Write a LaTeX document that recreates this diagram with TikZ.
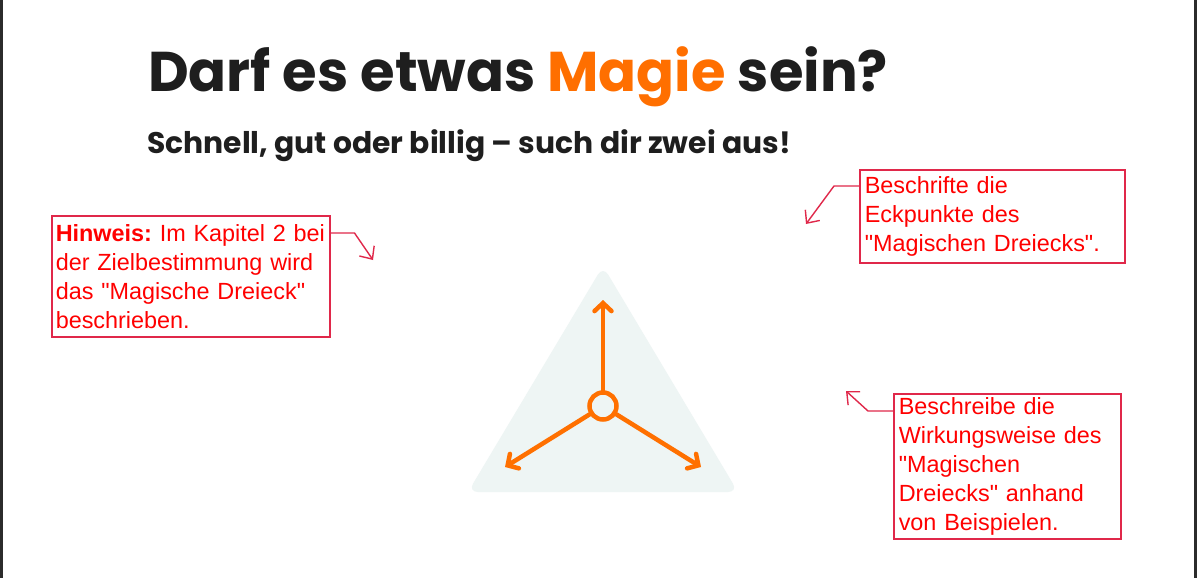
\documentclass[tikz,border=0pt]{standalone}
\usepackage{fontspec}
\setmainfont{Liberation Sans}
\newfontfamily\boxfont{Liberation Sans}
\newfontfamily\titlefont{Poppins}
\usetikzlibrary{arrows.meta}
\definecolor{ttl}{HTML}{1E1E1E}
\definecolor{mag}{HTML}{FF6F00}
\definecolor{org}{HTML}{FF7000}
\definecolor{tri}{HTML}{EEF5F4}
\definecolor{boxred}{HTML}{E0284A}
\definecolor{txtred}{HTML}{FF0000}
\definecolor{frame}{HTML}{2B2B2B}
\begin{document}
\begin{tikzpicture}[x=1pt,y=-1pt,
  rbox/.style={draw=boxred, line width=1.5pt, text=txtred, font=\boxfont\fontsize{23.4}{29}\selectfont,
    align=left, anchor=north west, inner xsep=4pt, inner ysep=0pt},
  rline/.style={draw=boxred, line width=1.4pt, -{Straight Barb[length=10pt,width=18pt]}},
  oarrow/.style={draw=org, line width=4.5pt, line cap=round, -{Straight Barb[length=8pt,width=17pt,line cap=round]}}]
\useasboundingbox (0,0) rectangle (1197,578);
\fill[white] (0,0) rectangle (1197,578);
\fill[frame] (0,0) rectangle (2.5,578);
\fill[frame] (1194,0) rectangle (1197,578);

\node[anchor=base west, inner sep=0, text=ttl, font=\titlefont\bfseries\fontsize{56}{60}\selectfont] (title) at (148,92) {Darf es etwas \textcolor{mag}{Magie} sein?};
\node[anchor=base west, inner sep=0, text=ttl, font=\titlefont\bfseries\fontsize{29.8}{33}\selectfont] (sub) at (147,153) {Schnell, gut oder billig – such dir zwei aus!};

\fill[tri, rounded corners=10pt] (603,266) -- (738,492) -- (468,492) -- cycle;
\node[draw=org, line width=4.5pt, circle, minimum size=27pt, inner sep=0] (c) at (603,406) {};
\coordinate (tu) at (603,300);
\coordinate (tl) at (505,467);
\coordinate (tr) at (701,467);
\draw[oarrow] (c) -- (tu);
\draw[oarrow] (c) -- (tl);
\draw[oarrow] (c) -- (tr);

\node[rbox, text width=270pt, minimum height=121pt] (b1) at (51,215)
  {\textbf{Hinweis:}~Im~Kapitel~2~bei\\der Zielbestimmung wird\\das "Magische Dreieck"\\beschrieben.};
\node[rbox, inner xsep=5pt, text width=255pt, minimum height=93pt] (b2) at (859,169)
  {Beschrifte die\\Eckpunkte des\\"Magischen Dreiecks".};
\node[rbox, inner xsep=5pt, text width=217pt, minimum height=145pt] (b3) at (893,393)
  {Beschreibe die\\Wirkungsweise des\\"Magischen\\Dreiecks" anhand\\von Beispielen.};

\coordinate (a1) at (373,260);
\coordinate (a2) at (806,224);
\coordinate (a3) at (846,391);
\draw[rline] ([yshift=-18pt]b1.north east) -- ++(24,0) -- (a1);
\draw[rline] ([yshift=-17pt]b2.north west) -- ++(-25,0) -- (a2);
\draw[rline] ([yshift=-18pt]b3.north west) -- ++(-25,0) -- (a3);
\end{tikzpicture}
\end{document}
